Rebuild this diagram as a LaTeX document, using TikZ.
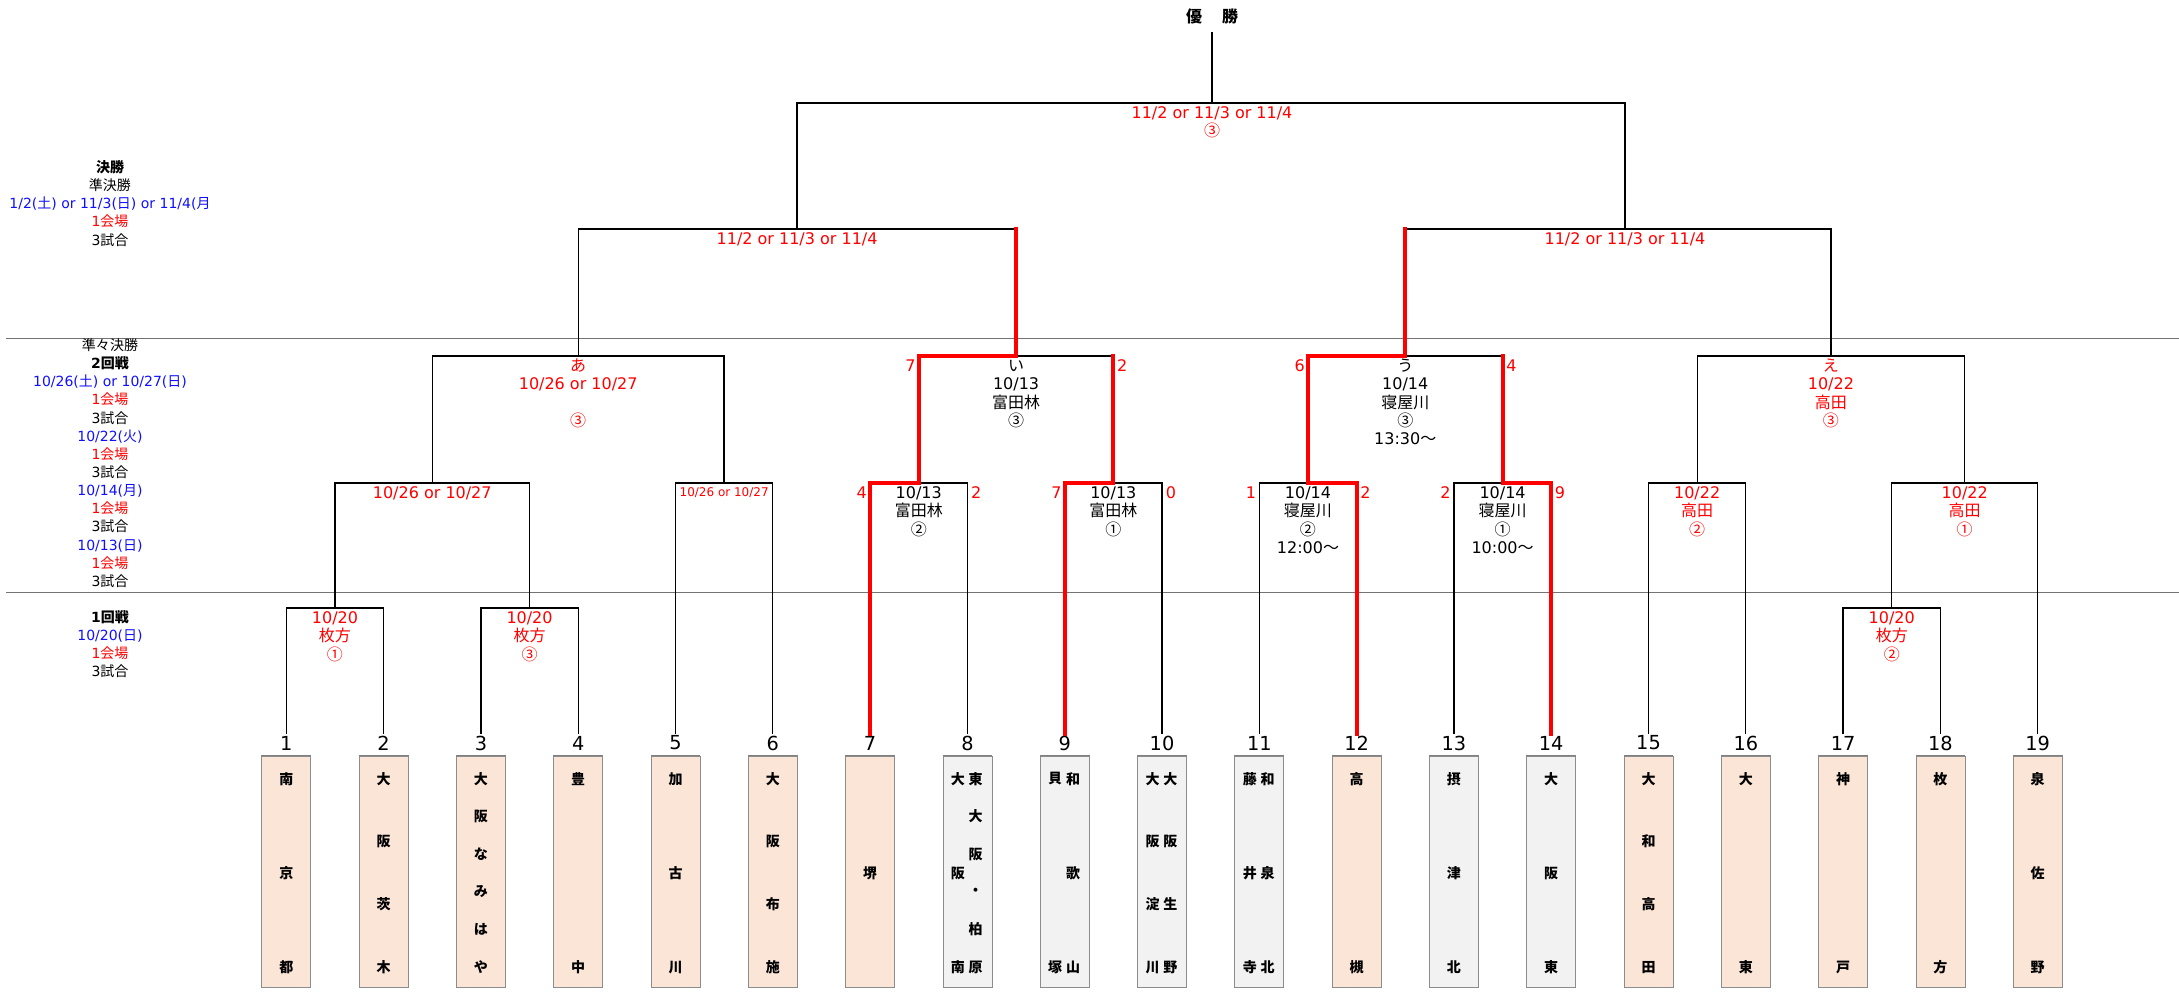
\documentclass[tikz,border=0pt]{standalone}
\usepackage{fontspec}
\setmainfont{DejaVu Sans}
\newfontfamily\latinfont{DejaVu Sans}
\newfontfamily\jpfont{Noto Sans CJK JP}
\XeTeXinterchartokenstate=1
\chardef\cjkcls=7
\makeatletter
\count@="3000
\loop \XeTeXcharclass\count@=\cjkcls \advance\count@ by 1 \ifnum\count@<"A000 \repeat
\count@="FF00
\loop \XeTeXcharclass\count@=\cjkcls \advance\count@ by 1 \ifnum\count@<"FFF0 \repeat
\count@="2460
\loop \XeTeXcharclass\count@=\cjkcls \advance\count@ by 1 \ifnum\count@<"2500 \repeat
\makeatother
\XeTeXinterchartoks 0 \cjkcls = {\jpfont}
\XeTeXinterchartoks 4095 \cjkcls = {\jpfont}
\XeTeXinterchartoks \cjkcls 0 = {\latinfont}
\XeTeXinterchartoks \cjkcls 4095 = {\latinfont}

\definecolor{peach}{HTML}{FBE5D6}
\definecolor{lgray}{HTML}{F2F2F2}
\definecolor{jred}{HTML}{FF0000}
\definecolor{jblue}{HTML}{1010FF}
\newcommand\ts{\rule{0pt}{12pt}}
\newcommand\tsm{\rule{0pt}{9pt}}
\newcommand\tss{\rule{0pt}{10.5pt}}
\newcommand\tcol[4]{\foreach \ch [count=\i] in {#4} {%
  \pgfmathsetmacro\yy{778.8+(\i-1)*188.4/(#3-1)}%
  \node[tname] (#1c\i) at (#2,\yy) {\ch};}}

\tikzset{
 br/.style={draw=black, line width=1pt, line join=miter},
 win/.style={draw=jred, line width=3pt, line join=miter, line cap=rect},
 lbl/.style={anchor=north, inner sep=0pt, align=center, font=\fontsize{12}{13.7}\selectfont},
 slbl/.style={anchor=north, inner sep=0pt, align=center, font=\fontsize{9}{10.3}\selectfont},
 side/.style={anchor=north, inner sep=0pt, align=center, font=\fontsize{10.5}{13.6}\selectfont},
 scl/.style={anchor=north east, inner sep=0pt, text=jred, font=\fontsize{12}{13.7}\selectfont},
 scr/.style={anchor=north west, inner sep=0pt, text=jred, font=\fontsize{12}{13.7}\selectfont},
 num/.style={inner sep=1pt, font=\fontsize{14.5}{16}\selectfont},
 tbox/.style={draw=black!45, line width=0.6pt, minimum width=36.75pt, minimum height=173.25pt, inner sep=0pt},
 tname/.style={inner sep=0pt, font=\bfseries\fontsize{10.5}{12}\selectfont},
 sepline/.style={draw=black!55, line width=0.7pt},
}

\begin{document}
\begin{tikzpicture}[x=0.75pt, y=-0.75pt]
\fill[white] (0,0) rectangle (2179,995);
\useasboundingbox (0,0) rectangle (2179,995);

% separators
\draw[sepline] (6,338) -- (2179,338);
\draw[sepline] (6,592) -- (2179,592);

% team numbers and boxes
\foreach \k/\c in {1/peach,2/peach,3/peach,4/peach,5/peach,6/peach,7/peach,8/lgray,9/lgray,10/lgray,11/lgray,12/peach,13/lgray,14/lgray,15/peach,16/peach,17/peach,18/peach,19/peach} {
  \pgfmathsetmacro\xx{286.3+97.3*(\k-1)}
  \node[num] (n\k) at (\xx,743) {\k};
  \node[tbox, fill=\c] (t\k) at (\xx,871.5) {};
  \draw[black!50, line width=1.3pt] (t\k.north west) -- (t\k.north east);
}

% team names
\tcol{a1}{286.3}{3}{南,京,都}
\tcol{a2}{383.6}{4}{大,阪,茨,木}
\tcol{a3}{480.9}{6}{大,阪,な,み,は,や}
\tcol{a4}{578.2}{2}{豊,中}
\tcol{a5}{675.5}{3}{加,古,川}
\tcol{a6}{772.8}{4}{大,阪,布,施}
\node[tname] (a7c1) at (870.1,873) {堺};
\tcol{a8r}{975.7}{6}{東,大,阪,・,柏,原}
\tcol{a8l}{957.9}{3}{大,阪,南}
\tcol{a9r}{1073.0}{3}{和,歌,山}
\tcol{a9l}{1055.2}{2}{貝,塚}
\tcol{a10r}{1170.3}{4}{大,阪,生,野}
\tcol{a10l}{1152.5}{4}{大,阪,淀,川}
\tcol{a11r}{1267.6}{3}{和,泉,北}
\tcol{a11l}{1249.8}{3}{藤,井,寺}
\tcol{a12}{1356.6}{2}{高,槻}
\tcol{a13}{1453.9}{3}{摂,津,北}
\tcol{a14}{1551.2}{3}{大,阪,東}
\tcol{a15}{1648.5}{4}{大,和,高,田}
\tcol{a16}{1745.8}{2}{大,東}
\tcol{a17}{1843.1}{2}{神,戸}
\tcol{a18}{1940.4}{2}{枚,方}
\tcol{a19}{2037.7}{3}{泉,佐,野}

% junctions
\coordinate (m12) at (334.95,608);
\coordinate (m34) at (529.55,608);
\coordinate (m1718) at (1891.75,608);
\coordinate (r2a) at (432.25,483);
\coordinate (m56) at (724.15,483);
\coordinate (m78) at (918.75,483);
\coordinate (m910) at (1113.35,483);
\coordinate (m1112) at (1307.95,483);
\coordinate (m1314) at (1502.55,483);
\coordinate (m1516) at (1697.15,483);
\coordinate (r2h) at (1964.7,483);
\coordinate (qa) at (578.2,356);
\coordinate (qi) at (1016.05,356);
\coordinate (qu) at (1405.25,356);
\coordinate (qe) at (1830.9,356);
\coordinate (sfL) at (797.1,229);
\coordinate (sfR) at (1625,229);
\coordinate (fin) at (1212,103);
\coordinate (ttop) at (1212,32);

% title
\node[inner sep=0pt, font=\bfseries\fontsize{12}{14}\selectfont] (title) at (1212,16) {優\hspace{15pt}勝};

% bracket lines
\draw[br] (n1.north) |- (m12) -| (n2.north);
\draw[br] (n3.north) |- (m34) -| (n4.north);
\draw[br] (n17.north) |- (m1718) -| (n18.north);
\draw[br] (m12) |- (r2a) -| (m34);
\draw[br] (n5.north) |- (m56) -| (n6.north);
\draw[br] (n7.north) |- (m78) -| (n8.north);
\draw[br] (n9.north) |- (m910) -| (n10.north);
\draw[br] (n11.north) |- (m1112) -| (n12.north);
\draw[br] (n13.north) |- (m1314) -| (n14.north);
\draw[br] (n15.north) |- (m1516) -| (n16.north);
\draw[br] (m1718) |- (r2h) -| (n19.north);
\draw[br] (r2a) |- (qa) -| (m56);
\draw[br] (m78) |- (qi) -| (m910);
\draw[br] (m1112) |- (qu) -| (m1314);
\draw[br] (m1516) |- (qe) -| (r2h);
\draw[br] (qa) |- (sfL) -| (qi);
\draw[br] (qu) |- (sfR) -| (qe);
\draw[br] (sfL) |- (fin) -| (sfR);
\draw[br] (fin) -- (ttop);

% winners
\draw[win] (n7.north) |- (m78) |- (qi) -- (qi |- sfL);
\draw[win] (n9.north) |- (m910) -- (m910 |- qi);
\draw[win] (n12.north) |- (m1112) |- (qu) -- (qu |- sfR);
\draw[win] (n14.north) |- (m1314) -- (m1314 |- qu);

% match labels
\node[lbl, text=jred] (lf) at (1212,102.3) {\ts 11/2 or 11/3 or 11/4\\③};
\node[lbl, text=jred] (lsfl) at (797.1,228.3) {\ts 11/2 or 11/3 or 11/4};
\node[lbl, text=jred] (lsfr) at (1625,228.3) {\ts 11/2 or 11/3 or 11/4};
\node[lbl, text=jred] (lqa) at (578.2,355.3) {\ts あ\\10/26 or 10/27\\\mbox{}\\③};
\node[lbl] (lqi) at (1016.05,355.3) {\ts い\\10/13\\富田林\\③};
\node[lbl] (lqu) at (1405.25,355.3) {\ts う\\10/14\\寝屋川\\③\\13:30～};
\node[lbl, text=jred] (lqe) at (1830.9,355.3) {\ts え\\10/22\\高田\\③};
\node[lbl, text=jred] (lr2a) at (432.25,482.3) {\ts 10/26 or 10/27};
\node[slbl, text=jred] (lm56) at (724.15,484.4) {\tsm 10/26 or 10/27};
\node[lbl] (lm78) at (918.75,482.3) {\ts 10/13\\富田林\\②};
\node[lbl] (lm910) at (1113.35,482.3) {\ts 10/13\\富田林\\①};
\node[lbl] (lm1112) at (1307.95,482.3) {\ts 10/14\\寝屋川\\②\\12:00～};
\node[lbl] (lm1314) at (1502.55,482.3) {\ts 10/14\\寝屋川\\①\\10:00～};
\node[lbl, text=jred] (lm1516) at (1697.15,482.3) {\ts 10/22\\高田\\②};
\node[lbl, text=jred] (lr2h) at (1964.7,482.3) {\ts 10/22\\高田\\①};
\node[lbl, text=jred] (lm12) at (334.95,607.3) {\ts 10/20\\枚方\\①};
\node[lbl, text=jred] (lm34) at (529.55,607.3) {\ts 10/20\\枚方\\③};
\node[lbl, text=jred] (lm1718) at (1891.75,607.3) {\ts 10/20\\枚方\\②};

% scores
\node[scl] (sqi1) at (915.8,355.3) {\ts 7};
\node[scr] (sqi2) at (1116.9,355.3) {\ts 2};
\node[scl] (squ1) at (1305,355.3) {\ts 6};
\node[scr] (squ2) at (1506.1,355.3) {\ts 4};
\node[scl] (s781) at (867.1,482.3) {\ts 4};
\node[scr] (s782) at (970.9,482.3) {\ts 2};
\node[scl] (s9101) at (1061.7,482.3) {\ts 7};
\node[scr] (s9102) at (1165.5,482.3) {\ts 0};
\node[scl] (s11121) at (1256.3,482.3) {\ts 1};
\node[scr] (s11122) at (1360.1,482.3) {\ts 2};
\node[scl] (s13141) at (1450.9,482.3) {\ts 2};
\node[scr] (s13142) at (1554.7,482.3) {\ts 9};

% side notes
\node[side] (side1) at (110,158.3) {\tss\textbf{決勝}\\準決勝\\\textcolor{jblue}{1/2(土) or 11/3(日) or 11/4(月}\\\textcolor{jred}{1会場}\\3試合};
\node[side] (side2) at (110,336.3) {\tss 準々決勝\\\textbf{2回戦}\\\textcolor{jblue}{10/26(土) or 10/27(日)}\\\textcolor{jred}{1会場}\\3試合\\\textcolor{jblue}{10/22(火)}\\\textcolor{jred}{1会場}\\3試合\\\textcolor{jblue}{10/14(月)}\\\textcolor{jred}{1会場}\\3試合\\\textcolor{jblue}{10/13(日)}\\\textcolor{jred}{1会場}\\3試合};
\node[side] (side3) at (110,608.3) {\tss\textbf{1回戦}\\\textcolor{jblue}{10/20(日)}\\\textcolor{jred}{1会場}\\3試合};
\end{tikzpicture}
\end{document}
